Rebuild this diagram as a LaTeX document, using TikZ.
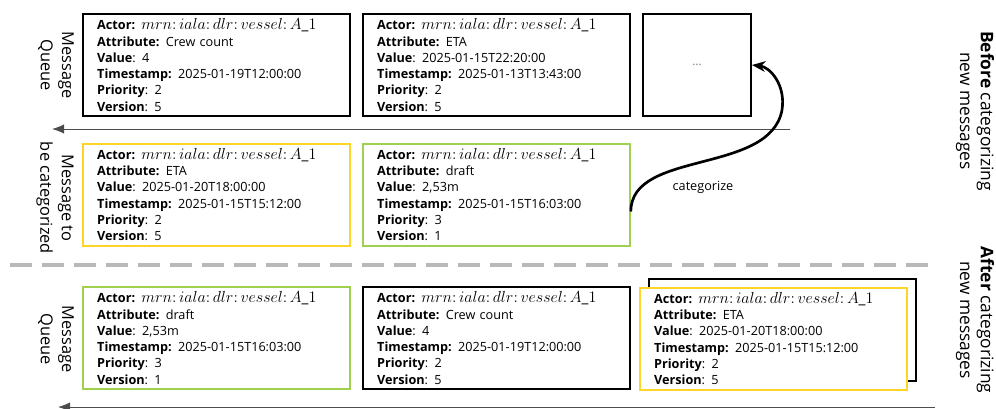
\documentclass[tikz,border=0pt]{standalone}
\usepackage{fontspec}
\setmainfont{Open Sans}
\usetikzlibrary{arrows.meta,calc}
\definecolor{catyellow}{RGB}{255,212,40}
\definecolor{catgreen}{RGB}{160,208,80}
\newcommand{\msgtext}[5]{\textbf{Actor:} {\fontsize{11.5}{12}\selectfont$mrn\colon iala\colon dlr\colon vessel\colon A\_1$}\\
  \textbf{Attribute:} #1\\
  \textbf{Value}: #2\\
  \textbf{Timestamp:} #3\\
  \textbf{Priority}: #4\\
  \textbf{Version}: #5}

\begin{document}
\begin{tikzpicture}[x=0.75pt, y=-0.75pt,
    msg/.style={draw, line width=1.5pt, fill=white, text width=179pt, inner xsep=10.5pt,
      minimum height=76.5pt, align=left, font=\fontsize{9.5}{12.2}\selectfont},
    side/.style={rotate=-90, align=center, font=\fontsize{12.3}{16}\selectfont},
    phase/.style={rotate=-90, align=center, font=\fontsize{13}{15.5}\selectfont},
    queue/.style={draw=black!70, line width=0.75pt, -{Latex[length=9pt,width=7pt]}}]
    \useasboundingbox (0,0) rectangle (996,408);
    % queue before categorizing
    \node[side] (lqueue) at (56,65) {Message\\Queue};
    \node[msg] (qcrew) at (216.5,65) {\msgtext{Crew count}{4}{2025-01-19T12:00:00}{2}{5}};
    \node[msg] (qeta) at (496.5,65) {\msgtext{ETA}{2025-01-15T22:20:00}{2025-01-13T13:43:00}{2}{5}};
    \node[draw, line width=1.5pt, minimum width=81pt, minimum height=76.5pt, text=gray,
      font=\small] (qmore) at (697,65) {\dots};
    \coordinate (q1tail) at (790,129);
    \coordinate (q1head) at (52,129);
    \draw[queue] (q1tail) -- (q1head);
    % incoming messages
    \node[side] (lnew) at (55,198) {Message to\\be categorized};
    \node[msg, draw=catyellow] (neweta) at (216.5,194.5) {\msgtext{ETA}{2025-01-20T18:00:00}{2025-01-15T15:12:00}{2}{5}};
    \node[msg, draw=catgreen] (newdraft) at (496.5,194.5) {\msgtext{draft}{2,53m}{2025-01-15T16:03:00}{3}{1}};
    % categorize step
    \coordinate (catstart) at ($(newdraft.east)+(0,17)$);
    \coordinate (catbend) at (782,110);
    \draw[line width=2pt, -{Stealth[length=10pt,width=8pt]}] (catstart)
      .. controls +(0,-62) and (770,175) .. (catbend)
      .. controls +(4,-25) and +(18,2) .. (qmore.east);
    \node[font=\fontsize{9.5}{11.6}\selectfont] (catlabel) at (703,187) {categorize};
    % before / after
    \draw[gray!55, line width=3pt, dash pattern=on 16.5pt off 7.5pt] (10,265) -- (935,265);
    \node[phase] (lbefore) at (975,111) {\textbf{Before} categorizing\\new messages};
    \node[phase] (lafter) at (975,320) {\textbf{After} categorizing\\new messages};
    % queue after categorizing
    \node[side] (lqueue2) at (56,339) {Message\\Queue};
    \node[msg, draw=catgreen] (adraft) at (216.5,338) {\msgtext{draft}{2,53m}{2025-01-15T16:03:00}{3}{1}};
    \node[msg] (acrew) at (496.5,338) {\msgtext{Crew count}{4}{2025-01-19T12:00:00}{2}{5}};
    \node[msg] (aback) at (782.5,329.5) {};
    \node[msg, draw=catyellow] (aeta) at (773.5,338.5) {\msgtext{ETA}{2025-01-20T18:00:00}{2025-01-15T15:12:00}{2}{5}};
    \coordinate (q2tail) at (935,407);
    \coordinate (q2head) at (58,407);
    \draw[queue] (q2tail) -- (q2head);
\end{tikzpicture}
\end{document}
